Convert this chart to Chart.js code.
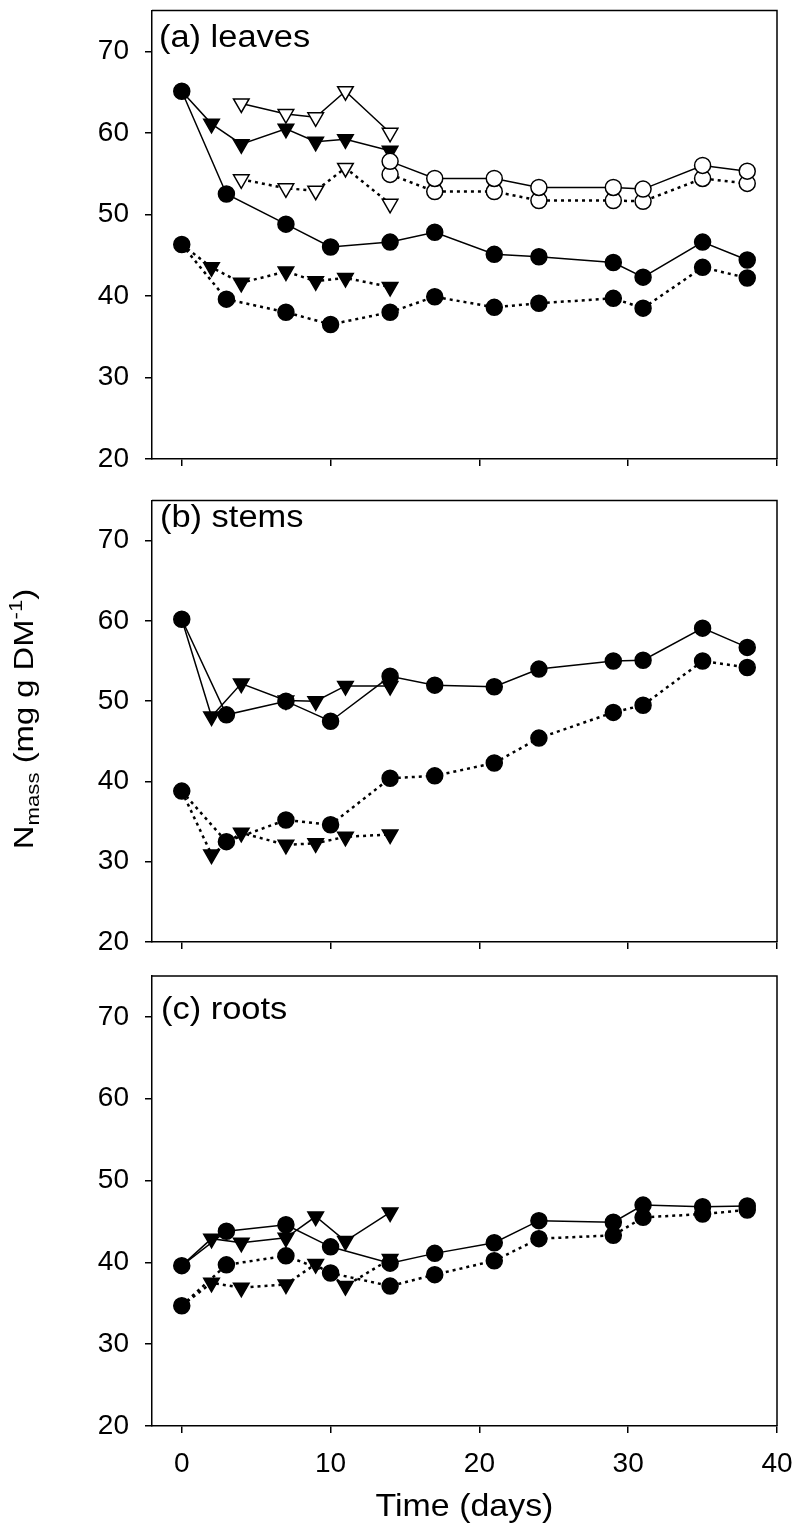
<!DOCTYPE html>
<html>
<head>
<meta charset="utf-8">
<script src="https://cdn.jsdelivr.net/npm/chart.js@4/dist/chart.umd.min.js"></script>
<style>
body { margin: 0; background: #fff; }
canvas { position: absolute; left: 0; }
</style>
</head>
<body>
<canvas id="pa" width="795" height="490" style="top:0px"></canvas>
<canvas id="pb" width="795" height="470" style="top:490px"></canvas>
<canvas id="pc" width="795" height="570" style="top:960px"></canvas>
<script>
// sampling days
var dayCirc = [0, 3, 7, 10, 14, 17, 21, 24, 29, 31, 35, 38];
var dayTri = [0, 2, 4, 7, 9, 11, 14];
var dayOpenTri = [4, 7, 9, 11, 14];
var dayOpenCirc = [14, 17, 21, 24, 29, 31, 35, 38];

var xTicks = [0, 10, 20, 30, 40];
var yTicks = [20, 30, 40, 50, 60, 70];

// (a) leaves
var leafCircSolid = [65.1, 52.5, 48.8, 46.0, 46.6, 47.8, 45.1, 44.8, 44.1, 42.3, 46.6, 44.4];
var leafCircDot = [46.3, 39.6, 38.0, 36.5, 38.0, 39.9, 38.6, 39.1, 39.7, 38.5, 43.5, 42.2];
var leafTriSolid = [65.1, 61.1, 58.6, 60.5, 58.9, 59.2, 57.8];
var leafTriDot = [46.3, 43.5, 41.6, 43.0, 41.8, 42.2, 41.1];
var leafOpenTriSolid = [63.6, 62.3, 61.9, 65.1, 60.0];
var leafOpenTriDot = [54.3, 53.2, 52.9, 55.7, 51.3];
var leafOpenCircSolid = [56.5, 54.4, 54.4, 53.3, 53.3, 53.1, 56.0, 55.3];
var leafOpenCircDot = [54.9, 52.8, 52.8, 51.7, 51.7, 51.6, 54.4, 53.8];

// (b) stems
var stemCircSolid = [60.2, 48.3, 50.0, 47.5, 53.1, 52.0, 51.8, 54.0, 55.0, 55.1, 59.1, 56.7];
var stemCircDot = [38.8, 32.5, 35.2, 34.6, 40.4, 40.7, 42.3, 45.4, 48.6, 49.5, 55.0, 54.2];
var stemTriSolid = [60.2, 48.1, 52.2, 50.1, 50.0, 51.9, 51.9];
var stemTriDot = [38.8, 30.9, 33.6, 32.1, 32.3, 33.1, 33.4];

// (c) roots
var rootCircSolid = [39.6, 43.8, 44.6, 41.9, 39.9, 41.1, 42.4, 45.1, 44.9, 47.0, 46.8, 46.9];
var rootCircDot = [34.7, 39.7, 40.8, 38.7, 37.1, 38.5, 40.2, 42.9, 43.3, 45.5, 45.9, 46.4];
var rootTriSolid = [39.6, 42.9, 42.4, 43.0, 45.6, 42.6, 46.1];
var rootTriDot = [34.7, 37.5, 36.9, 37.3, 39.8, 37.1, 40.4];

var tickFont = { family: "'Liberation Sans', Arial, sans-serif", size: 28 };
var textFamily = "'Liberation Sans', Arial, sans-serif";

function series(days, vals, marker, dotted, skipFirst) {
    var open = marker.indexOf('open') === 0;
    var tri = marker.indexOf('Tri') >= 0 || marker === 'tri';
    var r = tri ? 9 : 8;
    return {
        data: days.map(function(d, i) { return { x: d, y: vals[i] }; }),
        borderColor: '#000',
        borderWidth: dotted ? 2.5 : 1.5,
        borderDash: dotted ? [3, 4] : [],
        pointStyle: tri ? 'triangle' : 'circle',
        pointRotation: tri ? 180 : 0,
        pointRadius: function(c) { return (skipFirst && c.dataIndex === 0) ? 0 : r; },
        pointBackgroundColor: open ? '#fff' : '#000',
        pointBorderColor: '#000',
        pointBorderWidth: 1.5,
        tension: 0,
        fill: false
    };
}

// draw text pieces with a slight horizontal stretch
function drawParts(ctx, parts, x, y, sx, center) {
    var widths = parts.map(function(p) {
        ctx.font = p.size + 'px ' + textFamily;
        return ctx.measureText(p.t).width;
    });
    var total = widths.reduce(function(a, b) { return a + b; }, 0);
    ctx.save();
    ctx.translate(x, y);
    ctx.scale(sx, 1);
    var cx = center ? -total / 2 : 0;
    ctx.fillStyle = '#000';
    ctx.textBaseline = 'alphabetic';
    ctx.textAlign = 'left';
    parts.forEach(function(p, i) {
        ctx.font = p.size + 'px ' + textFamily;
        ctx.fillText(p.t, cx, p.dy || 0);
        cx += widths[i];
    });
    ctx.restore();
}

var boxPlugin = {
    id: 'box',
    afterDraw: function(chart) {
        var a = chart.chartArea, ctx = chart.ctx;
        ctx.save();
        ctx.strokeStyle = '#000';
        ctx.lineWidth = 1.5;
        ctx.beginPath();
        ctx.moveTo(a.left, a.top);
        ctx.lineTo(a.right, a.top);
        ctx.lineTo(a.right, a.bottom);
        ctx.stroke();
        ctx.restore();
    }
};

function makePanel(id, datasets, padTop, xHeight, showX, extra) {
    return new Chart(document.getElementById(id), {
        type: 'line',
        data: { datasets: datasets },
        options: {
            responsive: false,
            animation: false,
            events: [],
            layout: { padding: { top: padTop, right: 18, left: 0, bottom: 0 } },
            plugins: { legend: { display: false }, tooltip: { enabled: false } },
            scales: {
                x: {
                    type: 'linear', min: -2, max: 40,
                    afterBuildTicks: function(s) { s.ticks = xTicks.map(function(v) { return { value: v }; }); },
                    afterFit: function(s) {
                        s.height = xHeight;
                        s.paddingLeft = 0;
                        s.paddingRight = 0;
                    },
                    ticks: { display: showX, font: tickFont, color: '#000', padding: 14, maxRotation: 0 },
                    grid: { drawOnChartArea: false, drawTicks: true, tickLength: 7, color: '#000', lineWidth: 1.5 },
                    border: { display: true, color: '#000', width: 1.5 }
                },
                y: {
                    min: 20, max: 75,
                    afterBuildTicks: function(s) { s.ticks = yTicks.map(function(v) { return { value: v }; }); },
                    afterFit: function(s) {
                        s.width = 152;
                        s.paddingTop = 0;
                        s.paddingBottom = 0;
                    },
                    ticks: { font: tickFont, color: '#000', padding: 16 },
                    grid: { drawOnChartArea: false, drawTicks: true, tickLength: 7, color: '#000', lineWidth: 1.5 },
                    border: { display: true, color: '#000', width: 1.5 }
                }
            }
        },
        plugins: [boxPlugin, { id: 'txt', afterDraw: function(chart) { extra(chart.ctx); } }]
    });
}

makePanel('pa', [
    series(dayCirc, leafCircSolid, 'circ', false),
    series(dayCirc, leafCircDot, 'circ', true),
    series(dayOpenCirc, leafOpenCircSolid, 'openCirc', false),
    series(dayOpenCirc, leafOpenCircDot, 'openCirc', true),
    series(dayTri, leafTriSolid, 'tri', false, true),
    series(dayTri, leafTriDot, 'tri', true, true),
    series(dayOpenTri, leafOpenTriSolid, 'openTri', false),
    series(dayOpenTri, leafOpenTriDot, 'openTri', true)
], 8, 31, false, function(ctx) {
    drawParts(ctx, [{ t: '(a) leaves', size: 31 }], 159, 47, 1.11, false);
});

makePanel('pb', [
    series(dayCirc, stemCircSolid, 'circ', false),
    series(dayCirc, stemCircDot, 'circ', true),
    series(dayTri, stemTriSolid, 'tri', false, true),
    series(dayTri, stemTriDot, 'tri', true, true)
], 2, 18, false, function(ctx) {
    drawParts(ctx, [{ t: '(b) stems', size: 31 }], 160, 37, 1.11, false);
    ctx.save();
    ctx.translate(33, 229);
    ctx.rotate(-Math.PI / 2);
    drawParts(ctx, [
        { t: 'N', size: 28 },
        { t: 'mass', size: 19, dy: 6 },
        { t: ' (mg g DM', size: 28 },
        { t: '-1', size: 19, dy: -11 },
        { t: ')', size: 28 }
    ], 0, 0, 1.17, true);
    ctx.restore();
});

makePanel('pc', [
    series(dayCirc, rootCircSolid, 'circ', false),
    series(dayCirc, rootCircDot, 'circ', true),
    series(dayTri, rootTriSolid, 'tri', false, true),
    series(dayTri, rootTriDot, 'tri', true, true)
], 16, 104, true, function(ctx) {
    drawParts(ctx, [{ t: '(c) roots', size: 31 }], 161, 59, 1.11, false);
    drawParts(ctx, [{ t: 'Time (days)', size: 32 }], 464.5, 556, 1.06, true);
});
</script>
</body>
</html>
